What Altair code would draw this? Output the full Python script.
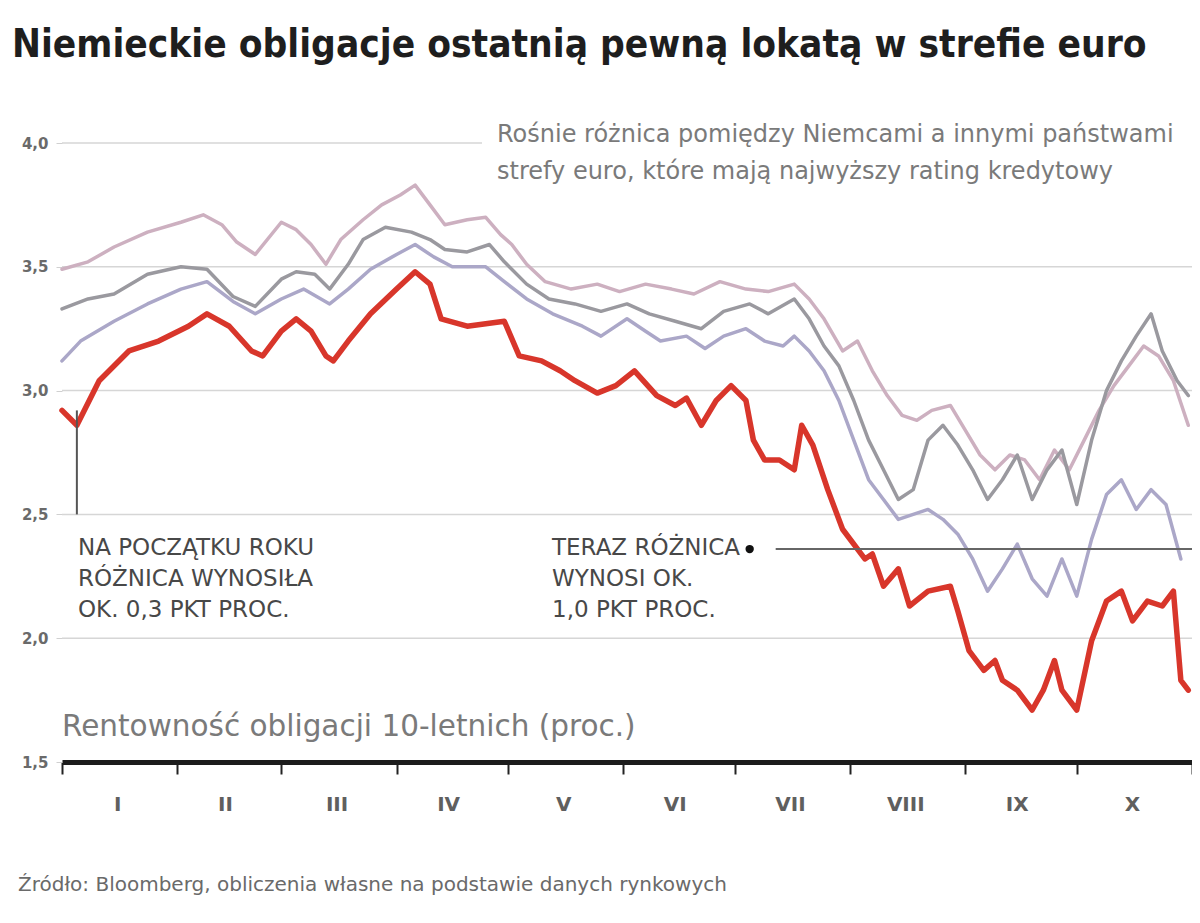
import altair as alt
import pandas as pd

# ---------------- data ----------------
red_dates = ["2011-01-01","2011-01-05","2011-01-11","2011-01-19","2011-01-27",
             "2011-02-04","2011-02-09","2011-02-15","2011-02-21","2011-02-24",
             "2011-03-01","2011-03-05","2011-03-09","2011-03-13","2011-03-15","2011-03-19","2011-03-25",
             "2011-04-01","2011-04-06","2011-04-10","2011-04-13","2011-04-20","2011-04-30",
             "2011-05-04","2011-05-10","2011-05-15","2011-05-19","2011-05-25","2011-05-30",
             "2011-06-04","2011-06-10","2011-06-15","2011-06-18","2011-06-22","2011-06-26","2011-06-30",
             "2011-07-04","2011-07-06","2011-07-09","2011-07-13","2011-07-17","2011-07-19","2011-07-22","2011-07-26","2011-07-30",
             "2011-08-05","2011-08-07","2011-08-10","2011-08-14","2011-08-17","2011-08-22","2011-08-28","2011-08-30",
             "2011-09-02","2011-09-06","2011-09-09","2011-09-11","2011-09-15","2011-09-19","2011-09-22","2011-09-25","2011-09-27",
             "2011-10-01","2011-10-05","2011-10-09","2011-10-13","2011-10-16","2011-10-20","2011-10-24","2011-10-27","2011-10-29","2011-10-31"]
red_vals = [2.92,2.86,3.04,3.16,3.20,
            3.26,3.31,3.26,3.16,3.14,
            3.24,3.29,3.24,3.14,3.12,3.20,3.31,
            3.41,3.48,3.43,3.29,3.26,3.28,
            3.14,3.12,3.08,3.04,2.99,3.02,
            3.08,2.98,2.94,2.97,2.86,2.96,3.02,
            2.96,2.80,2.72,2.72,2.68,2.86,2.78,2.60,2.44,
            2.32,2.34,2.21,2.28,2.13,2.19,2.21,2.11,
            1.95,1.87,1.91,1.83,1.79,1.71,1.79,1.91,1.79,
            1.71,1.99,2.15,2.19,2.07,2.15,2.13,2.19,1.83,1.79]

a_dates = ["2011-01-01","2011-01-08","2011-01-15","2011-01-24",
           "2011-02-02","2011-02-08","2011-02-13","2011-02-17","2011-02-22",
           "2011-03-01","2011-03-05","2011-03-09","2011-03-13","2011-03-17","2011-03-23","2011-03-28",
           "2011-04-02","2011-04-06","2011-04-10","2011-04-14","2011-04-20","2011-04-25","2011-04-29",
           "2011-05-02","2011-05-06","2011-05-11","2011-05-18","2011-05-25","2011-05-31",
           "2011-06-07","2011-06-14","2011-06-20","2011-06-27",
           "2011-07-04","2011-07-10","2011-07-17","2011-07-21","2011-07-25","2011-07-30",
           "2011-08-03","2011-08-07","2011-08-11","2011-08-15","2011-08-19","2011-08-23","2011-08-28",
           "2011-09-01","2011-09-05","2011-09-09","2011-09-13","2011-09-17","2011-09-21","2011-09-25","2011-09-29",
           "2011-10-03","2011-10-07","2011-10-11","2011-10-15","2011-10-19","2011-10-23","2011-10-27","2011-10-31"]
a_vals = [3.49,3.52,3.58,3.64,
          3.68,3.71,3.67,3.60,3.55,
          3.68,3.65,3.59,3.51,3.61,3.69,3.75,
          3.79,3.83,3.75,3.67,3.69,3.70,3.63,
          3.59,3.51,3.44,3.41,3.43,3.40,
          3.43,3.41,3.39,3.44,
          3.41,3.40,3.43,3.37,3.29,3.16,
          3.20,3.08,2.98,2.90,2.88,2.92,2.94,
          2.84,2.74,2.68,2.74,2.72,2.64,2.76,2.68,
          2.80,2.92,3.02,3.10,3.18,3.14,3.04,2.86]

b_dates = ["2011-01-01","2011-01-08","2011-01-15","2011-01-24",
           "2011-02-02","2011-02-09","2011-02-16","2011-02-22",
           "2011-03-01","2011-03-05","2011-03-10","2011-03-14","2011-03-19","2011-03-23","2011-03-29",
           "2011-04-05","2011-04-10","2011-04-14","2011-04-20","2011-04-26","2011-04-30",
           "2011-05-06","2011-05-12","2011-05-19","2011-05-26",
           "2011-06-02","2011-06-08","2011-06-15","2011-06-22","2011-06-28",
           "2011-07-05","2011-07-10","2011-07-17","2011-07-21","2011-07-25","2011-07-29",
           "2011-08-02","2011-08-06","2011-08-10","2011-08-14","2011-08-18","2011-08-22","2011-08-26","2011-08-30",
           "2011-09-03","2011-09-07","2011-09-11","2011-09-15","2011-09-19","2011-09-23","2011-09-27",
           "2011-10-01","2011-10-05","2011-10-09","2011-10-13","2011-10-17","2011-10-21","2011-10-24","2011-10-28","2011-10-31"]
b_vals = [3.33,3.37,3.39,3.47,
          3.50,3.49,3.38,3.34,
          3.45,3.48,3.47,3.41,3.51,3.61,3.66,
          3.64,3.61,3.57,3.56,3.59,3.52,
          3.43,3.37,3.35,3.32,
          3.35,3.31,3.28,3.25,3.32,
          3.35,3.31,3.37,3.29,3.18,3.10,
          2.96,2.80,2.68,2.56,2.60,2.80,2.86,2.78,
          2.68,2.56,2.64,2.74,2.56,2.68,2.76,
          2.54,2.80,3.00,3.12,3.22,3.31,3.16,3.04,2.98]

c_dates = ["2011-01-01","2011-01-06","2011-01-15","2011-01-24",
           "2011-02-02","2011-02-09","2011-02-16","2011-02-22",
           "2011-03-01","2011-03-07","2011-03-14","2011-03-19","2011-03-25",
           "2011-04-01","2011-04-06","2011-04-11","2011-04-16","2011-04-25","2011-04-30",
           "2011-05-06","2011-05-13","2011-05-21","2011-05-26",
           "2011-06-02","2011-06-07","2011-06-11","2011-06-18","2011-06-23","2011-06-28",
           "2011-07-04","2011-07-09","2011-07-14","2011-07-17","2011-07-21","2011-07-25","2011-07-29",
           "2011-08-02","2011-08-06","2011-08-10","2011-08-14","2011-08-18","2011-08-22","2011-08-26","2011-08-30",
           "2011-09-03","2011-09-07","2011-09-11","2011-09-15","2011-09-19","2011-09-23","2011-09-27",
           "2011-10-01","2011-10-05","2011-10-09","2011-10-13","2011-10-17","2011-10-21","2011-10-25","2011-10-29"]
c_vals = [3.12,3.20,3.28,3.35,
          3.41,3.44,3.36,3.31,
          3.37,3.41,3.35,3.41,3.49,
          3.55,3.59,3.54,3.50,3.50,3.44,
          3.37,3.31,3.26,3.22,
          3.29,3.24,3.20,3.22,3.17,3.22,
          3.25,3.20,3.18,3.22,3.16,3.08,2.96,
          2.80,2.64,2.56,2.48,2.50,2.52,2.48,2.42,
          2.32,2.19,2.28,2.38,2.24,2.17,2.32,
          2.17,2.40,2.58,2.64,2.52,2.60,2.54,2.32]

series_names = ["Austria", "Francja", "Holandia", "Niemcy"]
series_colors = ["#cdb0c0", "#9a999f", "#aba7c8", "#d8362b"]

month_labels = ["I", "II", "III", "IV", "V", "VI", "VII", "VIII", "IX", "X"]
month_mid = ["2011-01-16", "2011-02-14", "2011-03-16", "2011-04-15", "2011-05-16",
             "2011-06-15", "2011-07-16", "2011-08-16", "2011-09-15", "2011-10-16"]
y_ticks = [1.5, 2.0, 2.5, 3.0, 3.5, 4.0]
grid_vals = [2.0, 2.5, 3.0, 3.5]

title_text = "Niemieckie obligacje ostatnią pewną lokatą w strefie euro"
note_text = "Rośnie różnica pomiędzy Niemcami a innymi państwami\nstrefy euro, które mają najwyższy rating kredytowy"
ann1_text = "NA POCZĄTKU ROKU\nRÓŻNICA WYNOSIŁA\nOK. 0,3 PKT PROC."
ann2_text = "TERAZ RÓŻNICA\nWYNOSI OK.\n1,0 PKT PROC."
ylabel_text = "Rentowność obligacji 10-letnich (proc.)"
source_text = "Źródło: Bloomberg, obliczenia własne na podstawie danych rynkowych"

# ---------------- build tables ----------------
rows = []
for name, ds, vs in [("Austria", a_dates, a_vals), ("Francja", b_dates, b_vals),
                     ("Holandia", c_dates, c_vals), ("Niemcy", red_dates, red_vals)]:
    assert len(ds) == len(vs), name
    for d, v in zip(ds, vs):
        rows.append({"seria": name, "data": d, "rentownosc": v})
df = pd.DataFrame(rows)
df_grey = df[df.seria != "Niemcy"]
df_red = df[df.seria == "Niemcy"]

FONT = "DejaVu Sans, Liberation Sans, sans-serif"
NARROW = "DejaVu Sans Condensed, Liberation Sans Narrow, Liberation Sans, sans-serif"

x_dom = [alt.DateTime(year=2011, month=1, date=1, utc=True),
         alt.DateTime(year=2011, month=11, date=1, utc=True)]
month_starts = [alt.DateTime(year=2011, month=m, date=1, utc=True) for m in range(1, 12)]
x_scale = alt.Scale(type="utc", domain=x_dom)
y_scale = alt.Scale(domain=[1.5, 4.0], nice=False, zero=False)
color_scale = alt.Scale(domain=series_names, range=series_colors)

x_axis = alt.Axis(values=month_starts, labels=False, tickSize=12, tickWidth=2,
                  tickColor="#222222", domainWidth=5, domainColor="#1c1c1c",
                  grid=False, title=None)
y_axis = alt.Axis(values=y_ticks, labelExpr="replace(format(datum.value, '.1f'), '.', ',')",
                  domain=False, ticks=True, tickSize=6, tickColor="#d0d0d0",
                  labelPadding=8, labelFontSize=15, labelFontWeight="bold",
                  labelColor="#6a6a6a", labelFont=FONT, grid=False, title=None)


def X(field):
    return alt.X(field, scale=x_scale, axis=x_axis)


def Y(field):
    return alt.Y(field, scale=y_scale, axis=y_axis)


grid = alt.Chart(pd.DataFrame({"v": grid_vals})).mark_rule(
    color="#d6d6d6", strokeWidth=1.5).encode(y=Y("v:Q"))

top_rule = alt.Chart(pd.DataFrame({"x0": ["2011-01-01"], "x1": ["2011-04-24"], "v": [4.0]})).mark_rule(
    color="#d6d6d6", strokeWidth=1.5).encode(x=X("x0:T"), x2="x1:T", y=Y("v:Q"))

greys = alt.Chart(df_grey).mark_line(strokeWidth=3.5, strokeJoin="round", strokeCap="round").encode(
    x=X("data:T"), y=Y("rentownosc:Q"),
    color=alt.Color("seria:N", scale=color_scale, legend=None),
    order="data:T")

red = alt.Chart(df_red).mark_line(strokeWidth=5.5, strokeJoin="round", strokeCap="round").encode(
    x=X("data:T"), y=Y("rentownosc:Q"),
    color=alt.Color("seria:N", scale=color_scale, legend=None),
    order="data:T")

ann_v = alt.Chart(pd.DataFrame({"d": ["2011-01-05"], "v0": [2.5], "v1": [2.92]})).mark_rule(
    color="#555555", strokeWidth=2).encode(x=X("d:T"), y=Y("v0:Q"), y2="v1:Q")

ann_h = alt.Chart(pd.DataFrame({"x0": ["2011-07-12"], "x1": ["2011-11-01"], "v": [2.36]})).mark_rule(
    color="#666666", strokeWidth=2).encode(x=X("x0:T"), x2="x1:T", y=Y("v:Q"))

ann_dot = alt.Chart(pd.DataFrame({"d": ["2011-07-05"], "v": [2.36]})).mark_circle(
    color="#111111", size=70, opacity=1).encode(x=X("d:T"), y=Y("v:Q"))

months = alt.Chart(pd.DataFrame({"d": month_mid, "m": month_labels})).mark_text(
    font=FONT, fontSize=20, fontWeight="bold", color="#5f5f5f", baseline="middle").encode(
    x=X("d:T"), y=alt.value(662), text="m:N")


def label(txt, x, y, **kw):
    return alt.Chart(pd.DataFrame({"t": [txt]})).mark_text(
        align="left", baseline="middle", lineBreak="\n", **kw).encode(
        x=alt.value(x), y=alt.value(y), text="t:N")


title = label(title_text, -50, -98, font=NARROW, fontSize=38.5, fontWeight="bold", color="#1e1e1e")
note = label(note_text, 435, -8, font=FONT, fontSize=24, color="#7a7a7a", lineHeight=37)
ann1 = label(ann1_text, 16, 405, font=FONT, fontSize=23, color="#484848", lineHeight=31)
ann2 = label(ann2_text, 490, 405, font=FONT, fontSize=23, color="#484848", lineHeight=31)
ylab = label(ylabel_text, 0, 584, font=FONT, fontSize=29.5, color="#7a7a7a")
src = label(source_text, -44, 742, font=FONT, fontSize=20, color="#6a6a6a")

chart = alt.layer(grid, top_rule, greys, red, ann_v, ann_h, ann_dot, months,
                  title, note, ann1, ann2, ylab, src).properties(
    width=1130, height=619,
    autosize=alt.AutoSizeParams(type="none"),
    padding={"left": 54, "top": 135, "right": 0, "bottom": 150},
    background="white",
).configure_view(stroke=None)

chart.save("out.html", embed_options={"renderer": "svg", "actions": False})
